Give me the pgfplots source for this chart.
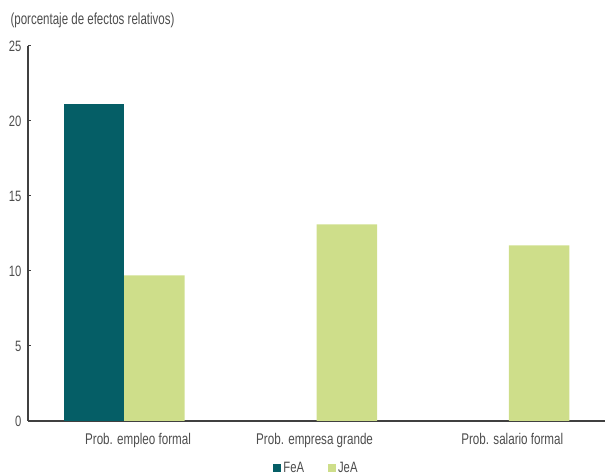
\documentclass[border=0pt]{standalone}
\usepackage{pgfplots}
\pgfplotsset{compat=1.18}
\usepackage{fontspec}
\setmainfont{Liberation Sans}[FakeStretch=0.75]
\newfontfamily\titlefont{Liberation Sans}[FakeStretch=0.72]
\definecolor{feacol}{RGB}{5,94,102}
\definecolor{jeacol}{RGB}{206,222,138}
\definecolor{txtcol}{RGB}{77,77,77}
\definecolor{axcol}{RGB}{64,64,64}
\begin{document}
\begin{tikzpicture}
\useasboundingbox (-28pt,-55pt) rectangle (577pt,421pt);
\begin{axis}[
  scale only axis,
  width=577pt, height=375pt,
  xmin=-0.5, xmax=2.5,
  ymin=0, ymax=25,
  ytick={0,5,10,15,20,25},
  % category labels sit near the middle of each group
  xtick={0.072,0.99,2.018},
  xticklabels={Prob. empleo formal, Prob. empresa grande, Prob. salario formal},
  extra x ticks={0.5,1.5},
  extra x tick labels={},
  extra x tick style={major tick length=9pt},
  xtick style={draw=none},
  ytick style={axcol, line width=1pt, /pgfplots/major tick length=3pt},
  tick align=inside,
  axis x line*=bottom,
  axis y line*=left,
  axis line style={axcol, line width=1.3pt},
  /pgf/number format/assume math mode=true,
  yticklabel style={font=\fontsize{15}{17}\selectfont, text=txtcol, anchor=east, xshift=-3pt},
  xticklabel style={font=\fontsize{15.5}{17}\selectfont, text=txtcol, yshift=-4pt},
  ybar=0pt,
  bar width=60.5pt,
  legend style={draw=none, at={(0.5,-0.104)}, anchor=north, legend columns=2,
    font=\fontsize{15}{17}\selectfont, text=txtcol, inner sep=0pt,
    /tikz/every even column/.style={column sep=22pt}},
  legend image code/.code={\fill[#1] (0pt,-4pt) rectangle (8pt,4pt);},
  clip=false,
]
\addplot[fill=feacol, draw=none] coordinates {(0,21.1)};
\addplot[fill=jeacol, draw=none] coordinates {(0,9.7) (1,13.1) (2,11.7)};
\legend{FeA, JeA}
\end{axis}
\node[anchor=west, text=txtcol, font=\titlefont\fontsize{16}{18}\selectfont] at (-21pt,401pt) {(porcentaje de efectos relativos)};
\end{tikzpicture}
\end{document}
